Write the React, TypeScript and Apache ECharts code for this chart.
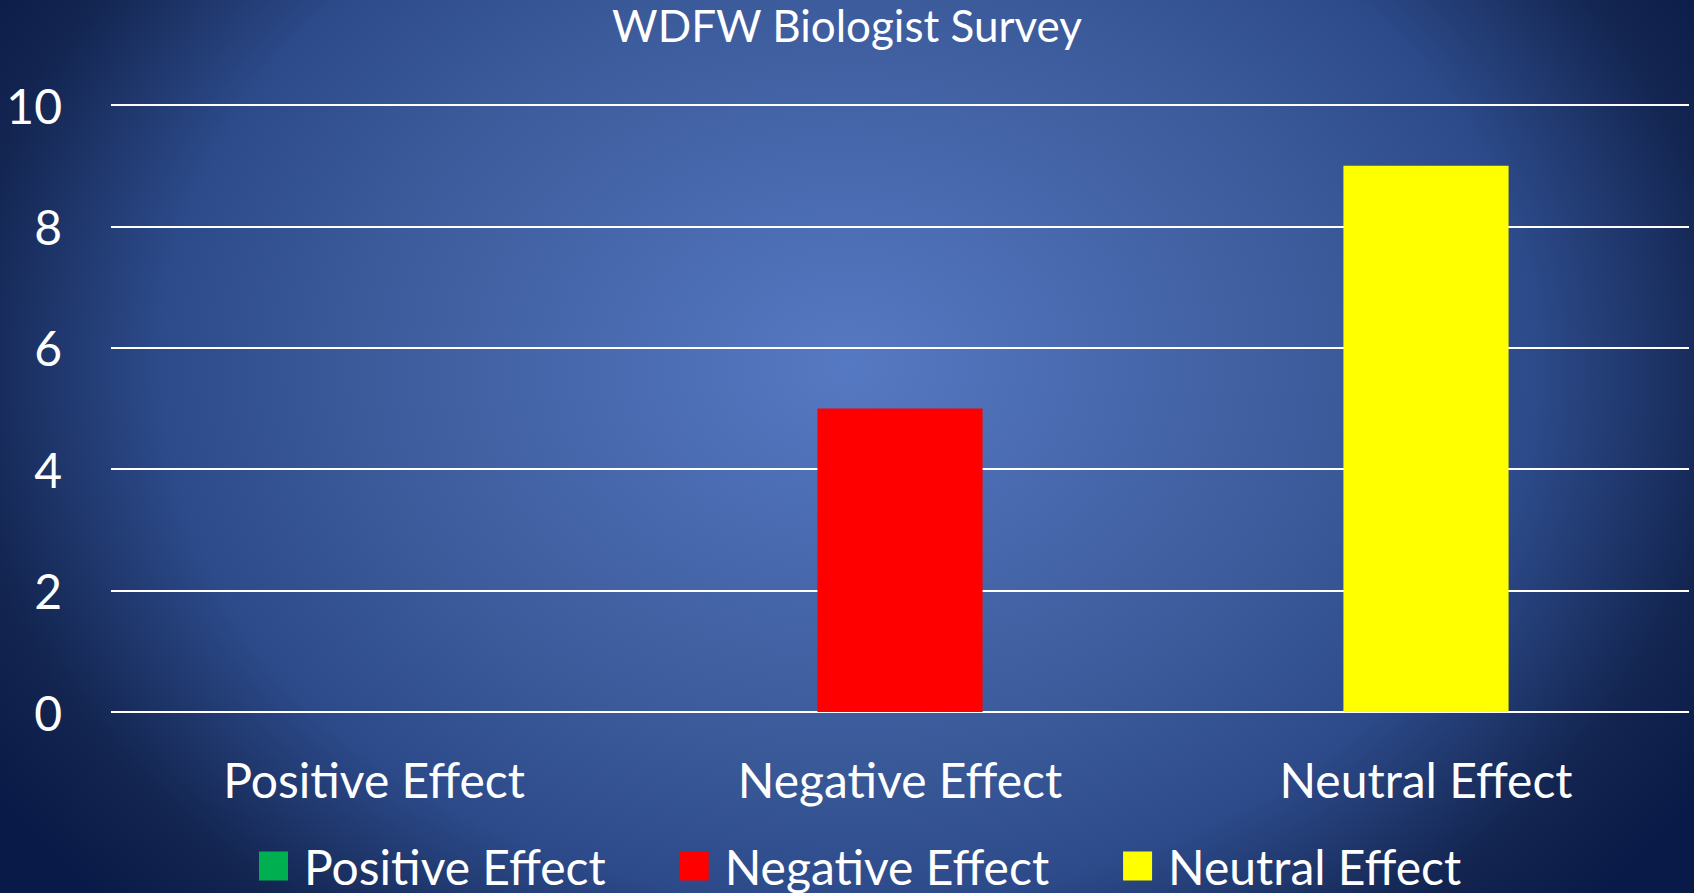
import React, { useEffect, useRef } from "react";
import * as echarts from "echarts";

const titleText = "WDFW Biologist Survey";
const categories = ["Positive Effect", "Negative Effect", "Neutral Effect"];
const seriesNames = ["Positive Effect", "Negative Effect", "Neutral Effect"];
const positiveValues: (number | string)[] = [0, "-", "-"];
const negativeValues: (number | string)[] = ["-", 5, "-"];
const neutralValues: (number | string)[] = ["-", "-", 9];
const seriesColors = ["#00b050", "#ff0000", "#ffff00"];
const yMin = 0;
const yMax = 10;
const yInterval = 2;

const FONT = "Lato";

export default function App() {
  const ref = useRef<HTMLDivElement>(null);
  useEffect(() => {
    document.body.style.margin = "0";
    if (!ref.current) return;
    const chart = echarts.init(ref.current, undefined, { renderer: "svg" });
    const values = [positiveValues, negativeValues, neutralValues];
    chart.setOption({
      animation: false,
      title: {
        text: titleText,
        left: "center",
        top: -2,
        padding: [5, 5, 5, 21],
        textStyle: { color: "#ffffff", fontSize: 44, fontWeight: "normal", fontFamily: FONT },
      },
      legend: {
        data: seriesNames,
        top: 842,
        left: 259,
        icon: "rect",
        padding: 0,
        itemWidth: 29,
        itemHeight: 29,
        itemGap: 74,
        textStyle: { color: "#ffffff", fontSize: 48, lineHeight: 44, fontFamily: FONT, padding: [0, 0, 0, 11] },
      },
      grid: { left: 111, right: 5, top: 105, bottom: 181, containLabel: false },
      xAxis: {
        type: "category",
        data: categories,
        axisLine: { show: false },
        axisTick: { show: false },
        axisLabel: { color: "#ffffff", fontSize: 48, fontFamily: FONT, margin: 43 },
      },
      yAxis: {
        type: "value",
        min: yMin,
        max: yMax,
        interval: yInterval,
        axisLine: { show: false },
        axisTick: { show: false },
        axisLabel: { color: "#ffffff", fontSize: 48, fontFamily: FONT, margin: 49 },
        splitLine: { lineStyle: { color: "#ffffff", width: 2 } },
      },
      series: seriesNames.map((name, i) => ({
        name,
        type: "bar",
        stack: "total",
        barWidth: "31.4%",
        data: values[i],
        itemStyle: { color: seriesColors[i] },
      })),
    });
    return () => chart.dispose();
  }, []);
  return (
    <div
      ref={ref}
      style={{
        width: 1694,
        height: 893,
        background:
          "radial-gradient(ellipse 950px 740px at 50% 41%, #5679c3 0%, #3b5a9a 52%, #2d4b8b 72%, #12244f 94%, #0a1a48 107%)",
      }}
    />
  );
}
